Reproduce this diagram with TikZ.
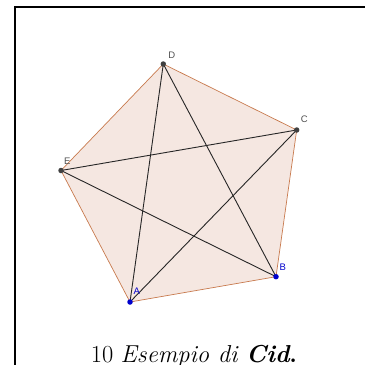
\documentclass[tikz,border=0pt]{standalone}
\usepackage{fontspec}
\setmainfont{Latin Modern Roman}
\newfontfamily\ggbfont{Liberation Sans}
\definecolor{ggbedge}{RGB}{200,122,78}
\definecolor{ggbfill}{RGB}{245,231,225}
\definecolor{ggbpoint}{RGB}{64,64,64}
\definecolor{ggbfree}{RGB}{0,0,204}
\definecolor{ggblabel}{RGB}{80,80,80}
\tikzset{
  ptdot/.style={circle,fill=#1,inner sep=0pt,minimum size=5.5pt},
  ptlabel/.style={font=\ggbfont\fontsize{9.5}{11}\selectfont,text=#1,inner sep=0pt},
  diag/.style={line width=0.9pt,draw=black!85},
}
\begin{document}
\begin{tikzpicture}[x=1pt,y=-1pt]%
\useasboundingbox (0,0) rectangle (365,365);
% frame
\draw[line width=2pt] (14.8,400) -- (14.8,6.6) -- (400,6.6);
% vertices of the pentagon
\coordinate (A) at (130,302);
\coordinate (B) at (276,276.7);
\coordinate (C) at (296.7,130);
\coordinate (D) at (163.3,64);
\coordinate (E) at (61,170.5);
\draw[fill=ggbfill,draw=ggbedge,line width=0.7pt]
 (A) -- (B) -- (C) -- (D) -- (E) -- cycle;
% diagonals
\draw[diag] (A) -- (C);
\draw[diag] (A) -- (D);
\draw[diag] (B) -- (D);
\draw[diag] (B) -- (E);
\draw[diag] (C) -- (E);
% points
\node[ptdot=ggbfree] (pA) at (A) {};
\node[ptdot=ggbfree] (pB) at (B) {};
\node[ptdot=ggbpoint] (pC) at (C) {};
\node[ptdot=ggbpoint] (pD) at (D) {};
\node[ptdot=ggbpoint] (pE) at (E) {};
\node[ptlabel=ggbfree] (lA) at (136.7,291.7) {A};
\node[ptlabel=ggbfree] (lB) at (282.7,267.3) {B};
\node[ptlabel=ggblabel] (lC) at (304.3,119) {C};
\node[ptlabel=ggblabel] (lD) at (171.7,55) {D};
\node[ptlabel=ggblabel] (lE) at (67.3,161) {E};
% caption
\node[anchor=base,inner sep=0pt,font=\fontsize{24.5}{28}\selectfont]
 (cap) at (194,362.5) {10 \textit{Esempio di} \textbf{\textit{Cid}.}};
\end{tikzpicture}
\end{document}
